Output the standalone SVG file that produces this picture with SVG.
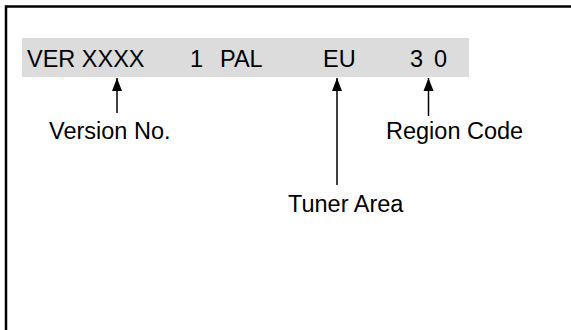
<svg xmlns="http://www.w3.org/2000/svg" width="571" height="330" viewBox="0 0 571 330">
<style>
  text { font-family: "Liberation Sans", Arial, sans-serif; font-size: 23.5px; fill: #000; }
  .conn { stroke: #000; stroke-width: 1.5; fill: none; marker-end: url(#ah); }
</style>
<defs>
  <marker id="ah" markerUnits="userSpaceOnUse" markerWidth="14" markerHeight="12" viewBox="0 0 14 12" refX="13" refY="6" orient="auto">
    <path d="M0,1 L13,6 L0,11 Z" fill="#000"/>
  </marker>
</defs>
<rect width="571" height="330" fill="#fff"/>
<g id="frame">
  <path d="M6,330 V6.5 H571" fill="none" stroke="#000" stroke-width="2.5"/>
</g>
<g id="display-bar">
  <rect x="22" y="38" width="447" height="39" fill="#dcdcdc"/>
  <text x="27" y="67">VER XXXX</text>
  <text x="190" y="67">1</text>
  <text x="220" y="67">PAL</text>
  <text x="323" y="67">EU</text>
  <text x="410" y="67">3</text>
  <text x="434" y="67">0</text>
</g>
<g id="label-version"><text x="49" y="139">Version No.</text></g>
<g id="label-region"><text x="386" y="139">Region Code</text></g>
<g id="label-tuner"><text x="288" y="212">Tuner Area</text></g>
<g id="connectors">
  <path class="conn" d="M117,113 V78"/>
  <path class="conn" d="M337,185 V78"/>
  <path class="conn" d="M428.5,116 V78"/>
</g>
</svg>
